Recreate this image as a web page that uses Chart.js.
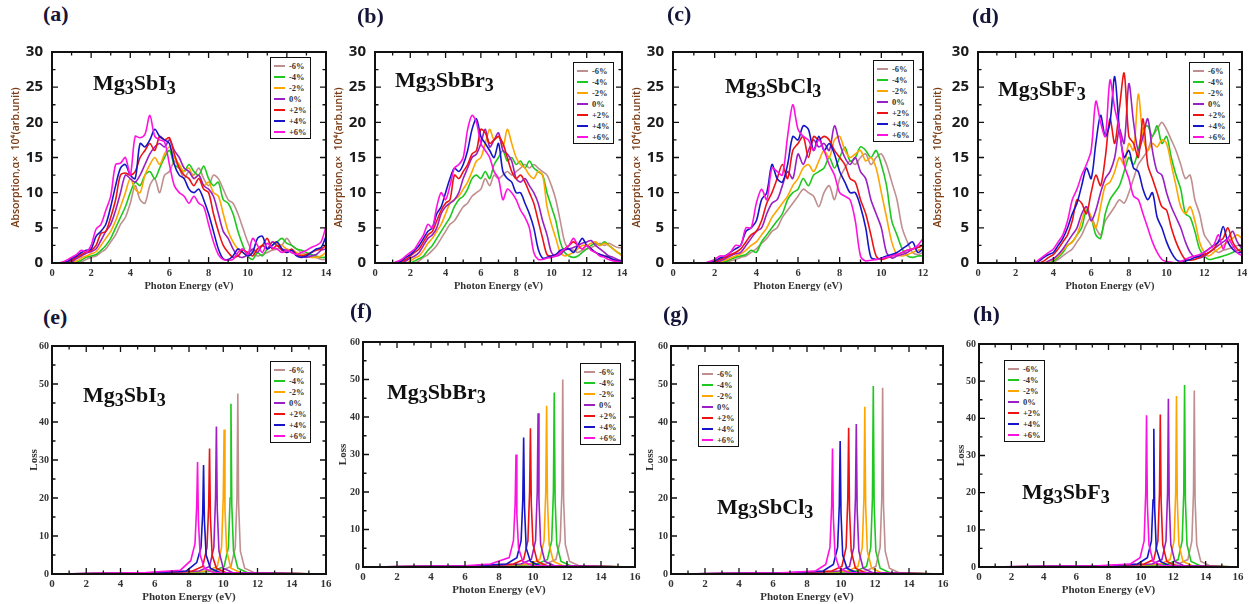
<!DOCTYPE html>
<html>
<head>
<meta charset="utf-8">
<script src="https://cdn.jsdelivr.net/npm/chart.js@4.4.0/dist/chart.umd.min.js"></script>
<style>
  html, body { margin: 0; padding: 0; background: #fff; }
  #fig { position: relative; width: 1254px; height: 604px; overflow: hidden; background: #fff; }
  .pc { position: absolute; }
  .tag { position: absolute; font: bold 22px "Liberation Serif", serif; color: #15153a; line-height: 1; }
  .name { position: absolute; font: bold 22px "Liberation Serif", serif; color: #111; line-height: 1; white-space: nowrap; }
  .name sub { font-size: 0.82em; vertical-align: -0.2em; line-height: 0; }
  .leg { position: absolute; border: 1.5px solid #111; background: #fff; padding: 2px 3px 1px 3px; }
  .leg div { height: 11px; font: bold 8.5px "Liberation Serif", serif; color: #333; display: flex; align-items: center; white-space: nowrap; }
  .leg i { display: inline-block; width: 11px; height: 2px; margin-right: 4px; }
</style>
</head>
<body>
<div id="fig"></div>
<script>
// x grid of the absorption spectra (eV)
const E = [0,0.25,0.5,0.75,1,1.25,1.5,1.75,2,2.25,2.5,2.75,3,3.25,3.5,3.75,4,4.25,4.5,4.75,5,5.25,5.5,5.75,6,6.25,6.5,6.75,7,7.25,7.5,7.75,8,8.25,8.5,8.75,9,9.25,9.5,9.75,10,10.25,10.5,10.75,11,11.25,11.5,11.75,12,12.25,12.5,12.75,13,13.25,13.5,13.75,14];

const strains = ["-6%", "-4%", "-2%", "0%", "+2%", "+4%", "+6%"];
const colors = ["#bf8f8f", "#1ec81e", "#ffa500", "#9a1fc4", "#ee1313", "#1616c8", "#ff12e0"];

// (a) Mg3SbI3 absorption
const absI_m6 = [0,0,0,0,0,0,0.2,0.5,0.8,1,1.5,2,3,4,5.5,6.5,8.5,11,9,8.5,11,12,10,12.5,13,14.5,13.5,12,13,12.5,13.5,12,11,12.5,12,10.5,9,8.5,7,5,3,1.5,1,1.2,1.5,1.8,2,2.5,3.5,2.5,2,1.5,1.2,1,0.8,0.5,0.5];
const absI_m4 = [0,0,0,0,0,0.1,0.4,0.8,1,1.2,1.8,2.5,3.5,5,6.5,8,10,11.5,11,12.5,13,12,13.5,15,16,14,13.5,13,14,13,12.5,13.8,12,11,11.5,9,8.5,7,4.5,2.5,1,0.5,1.5,1,2,2.5,3,3.5,2.8,2.5,2,1.8,1.5,1.2,1,0.8,0.8];
const absI_m2 = [0,0,0,0,0.1,0.3,0.7,1,1.3,1.6,2.5,3.5,4.5,6,8,10,12,10.5,10,12.5,14,15,14,15.5,16.5,15,14,13,13.5,12,12.5,11,11.5,10,9.5,7,4.5,3,2,1.5,1,1.5,2,2.5,2,3,2.8,2.5,2,1.8,1.5,1.2,1,0.8,0.8,1,1.5];
const absI_0 = [0,0,0,0,0.2,0.6,1,1.4,1.6,2,3.2,4.5,5.5,7.5,10,12.5,12,11.5,12.5,14,15.5,16.5,17,16.5,17.5,16,15,13.5,13,12,12.5,11,10.5,9.5,7,4.5,3.5,2,1,0.8,1.2,2,1.5,2.5,2,3,2.5,2,1.8,1.5,1.2,1,0.8,1,1.2,1.8,2];
const absI_p2 = [0,0,0,0.1,0.4,0.8,1.2,1.6,1.8,2.5,4.2,4.5,6.5,9,12.5,12.8,12.5,13,15,16,17,16,18,17.5,17.8,15.5,13.5,12.5,12,11,12,10.5,10,7,4.5,2.5,1.5,0.8,1,1.8,1.5,1,2,2.5,3.5,2,2.5,1.8,1.5,2,1.2,1,1.2,1.5,1.8,2,2.5];
const absI_p4 = [0,0,0,0.2,0.6,1,1.5,1.8,2,3.8,4.5,5.5,8,11,13.5,14,12.5,12,17,16.5,17.5,19,18,17.5,17,14,12.5,12,10.5,10,10.5,9,7,4.5,2,0.6,0.5,1,2,1.5,1,1.5,3.5,3.8,2,2.5,3,2,1.5,1.8,1,0.8,1,1.5,2,2.2,3.8];
const absI_p6 = [0,0,0.1,0.4,0.8,1.2,1.8,1.6,2.5,4.8,5.5,7.5,9.5,14,14.2,15,12.5,18,17.8,18.3,21,18,17.5,17.2,14,11,10,9.5,8.5,9.5,8.5,8,5.5,3,1.2,0.5,0.4,0.5,1.5,2,1.2,3.5,2.5,1.5,2.8,2.2,2,1.5,1.8,1.5,1.2,1.5,1.8,2.2,2.5,3,5.2];

// (b) Mg3SbBr3 absorption
const absBr_m6 = [0,0,0,0,0,0,0,0,0,0,0.3,0.8,1.2,1.8,2.5,3.5,4.5,5.5,6,7,8,8.5,9.5,10,10.5,12,11,12.5,12,12.5,13,12.5,13,13.5,14,13.5,14,13.5,13,12.5,11,9,6,3,2,1.8,1.5,1.8,2,2.2,2.5,2.8,2.5,2.8,2.5,2.2,2.2];
const absBr_m4 = [0,0,0,0,0,0,0,0,0,0.3,0.6,1,1.8,2.5,3.5,4.5,5.5,6.5,8,9,9.5,10.5,12,12.5,12,13,12,14,15,16,14.5,15,14,14.5,13.5,14.5,13.5,13,12.5,10,8,6,3,1.5,1,0.8,1,1.5,2,2.5,2.8,2.5,3,2.5,2,1.5,1.2];
const absBr_m2 = [0,0,0,0,0,0,0,0,0.3,0.7,1,1.8,2.8,3.5,4.5,5.5,7,8.5,9,9.5,10.5,11.5,13,14.5,15,17,19,17.5,18,16.5,19,17,15,14,13.5,12.5,12,13,12.5,8,5.5,3.5,1.5,1,1.2,1.5,2,2.5,2.5,2.8,3,2.5,2.8,2.5,2,1.5,1];
const absBr_0 = [0,0,0,0,0,0,0,0.3,0.7,1,1.5,2.5,3.5,4,5,7,8,8.5,9,10,12,13.5,15,15.5,17,19,16.5,17.5,18.5,16,15.5,14.5,12,11.5,12,11,10,8.5,6,4,1.5,1,1.2,1.8,2,2.2,2.5,2.8,3,3.2,2.5,2,1.5,1,0.8,0.5,0.3];
const absBr_p2 = [0,0,0,0,0,0,0.2,0.5,1,1.5,2,3,4,4.5,6,7.5,8.5,9,12.5,12,13,14,15.5,16,19,18.5,17,17.5,18,17,15,13,12,12.5,11.5,10,8.5,6,3.5,1.2,1,1.2,1.5,2,2.5,3,2.5,2,2.5,2,1.5,1.2,1,0.8,0.5,0.3,0.2];
const absBr_p4 = [0,0,0,0,0,0.1,0.3,0.8,1.2,1.8,2.5,3.5,4.5,5,7,8,10,12,13.5,13,14,16,19,20.5,18,17,16,15,17,13,12,11.5,10,10,8.5,7,5,2,0.7,0.8,1,1.2,1.8,2,2,1.5,2.5,3.5,2.5,2,1.5,1.2,1,0.8,0.5,0.3,0.2];
const absBr_p6 = [0,0,0,0,0,0.2,0.5,1,1.5,2,3,4,5.5,5,8,10,9,11,13.5,14,15,19,21,20,17,16,15,13,12,9,10.5,10,9,7.5,6.5,5,1.5,0.5,0.5,0.7,0.8,1,1.5,2,2.5,3.5,2.5,2,2.5,1.8,1.5,1,0.8,0.5,0.3,0.2,0.1];

// (c) Mg3SbCl3 absorption (0-12 eV)
const absCl_m6 = [0,0,0,0,0,0,0,0,0,0,0.1,0.3,0.5,0.8,1,1.5,2,2.8,3.5,4.5,5,6.5,7.5,8.5,9.5,10.5,10,9.5,8,10,11,9,12,13.5,14.5,14,15,15.5,14,15,15.5,14,11.5,9,5,3,1.5,1.2,1.5];
const absCl_m4 = [0,0,0,0,0,0,0,0,0,0,0.2,0.5,0.8,1,1.2,1.8,1.5,3,4,5,6,7,9,10,10.5,12,11,12.5,13,13.5,15,13.5,15,16.5,14.5,15,16.5,16,15,16,14,11,6,4,2,1,0.8,1,1];
const absCl_m2 = [0,0,0,0,0,0,0,0,0,0.2,0.4,0.7,1,1.3,1.8,2.5,3,4,5,6.5,7.5,8.5,9.5,11,12,13.5,14,13,14.5,16,15,17.5,18,16,15,15.5,16,14.5,15,13.5,10,6.5,3,1.2,1,1.2,1.5,1.8,2];
const absCl_0 = [0,0,0,0,0,0,0,0,0.1,0.3,0.6,1,1.3,1.5,2.5,3.5,4.5,5,7,8.5,9,11,13,12,15.5,14,16,17.5,16.5,17,16,19.5,17,15,14,15,13,12,9,7,5,1.5,0.7,1,1.2,1.5,2,2.2,2.5];
const absCl_p2 = [0,0,0,0,0,0,0,0,0.2,0.5,0.8,1.2,1.5,2,3,4,4.5,6,8.5,10,12,14,12,16,17,18,15,18,17.5,18,17.5,16,15,14,12,11.5,9,7,4,1,0.5,0.7,1,1.2,1.5,1.8,2,2.2,2.5];
const absCl_p4 = [0,0,0,0,0,0,0,0.1,0.3,0.7,1,1.5,2,2.5,4.5,5,6,9,10,14,12,11.5,14,18,17.5,19.5,19,16,18,16,17,15.5,13,11.5,10,10,8,5,0.8,0.5,0.7,1,1.2,1.5,2,2.5,3,1.5,2];
const absCl_p6 = [0,0,0,0,0,0,0,0.2,0.5,1,1,1.5,2.5,2.5,5,5,8.5,10.5,9,13.5,13,12.5,18,22.5,19,18,17.5,16,17.5,16,14,12.5,10,9.5,9,6,1,0.3,0.4,0.5,0.6,0.8,1,1.2,1.5,1.8,2,2.5,3.5];

// (d) Mg3SbF3 absorption
const absF_m6 = [0,0,0,0,0,0,0,0,0,0,0,0,0,0,0,0,0.1,0.5,1,1.5,2,3,4,5.5,6.5,5,4,6,7,8,9,8.5,10,12,14,15,16,18,19,20,19,17.5,16,14,12,12.5,9,7,4,3,2,1.5,1.8,2,2.2,2.5,2.5];
const absF_m4 = [0,0,0,0,0,0,0,0,0,0,0,0,0,0,0,0,0.3,0.8,1.5,2.5,3,4,5,7.5,6.5,4,3.5,7,9,10,11,13,15,14,16,19,19.5,18,19.5,17,18,15,12.5,10.5,7,6.5,4.5,2,1,0.5,0.6,0.8,1,1.2,1.5,1.8,2];
const absF_m2 = [0,0,0,0,0,0,0,0,0,0,0,0,0,0,0,0.2,0.5,1,1.8,2.5,3,4,6,8,6.5,5,8,11,11.5,13,15,14,17,16,24,18,16,17,16.5,17.5,17,14,11,8,7,8,6,3,1.5,1,1.5,2,2.5,3,3.5,4,3.5];
const absF_0 = [0,0,0,0,0,0,0,0,0,0,0,0,0,0,0,0.3,0.6,1.2,2,3,4,5,7,8,6,7.5,10,12,13,15,19,17,25.5,20,16,18,20.5,16,13,12.5,10,8,6.5,5,3,1.5,0.8,0.7,1,1.5,2,2.5,3,3.5,4.5,3,2];
const absF_p2 = [0,0,0,0,0,0,0,0,0,0,0,0,0,0,0.3,0.8,1.2,2,3,4,6,9,8.5,7,10,12.5,11,15,20.5,17,22,27,18,17,15,20.5,14,12,10,8,7.5,5,3,1.5,0.5,0.4,0.5,0.8,1.2,1.5,2,3,3.5,5,3,2,1.5];
const absF_p4 = [0,0,0,0,0,0,0,0,0,0,0,0,0,0.3,0.8,1.2,1.5,2.5,3.5,5,7,8.5,11,13.5,12,17,21,18,20,26.5,19,15,16,13.5,13,10.5,9,10,6.5,5,3,1.5,0.5,0.2,0.3,0.5,0.8,1,1.5,2,2.5,3,5.2,3,2,1.5,1.5];
const absF_p6 = [0,0,0,0,0,0,0,0,0,0,0,0,0,0.5,1,1.5,2,3,4,6,9,10.5,12.5,14,16,23,20,18,26,22,19,14,12,9.5,9,7,5,3,1.5,0.5,0.2,0.1,0,0.2,0.5,0.8,1,1.2,1.5,2,2.5,4,2,3.5,2.5,1.5,1];

// (e) Mg3SbI3 loss [eV, loss]
const lossI_m6 = [[0,0],[7.85,0.3],[9.85,0.8],[10.45,2],[10.7,7],[10.8,20],[10.85,47.5],[10.9,18],[11,6],[11.25,1.5],[11.85,0.3],[16,0]];
const lossI_m4 = [[0,0],[7.45,0.3],[9.45,0.8],[10.05,2],[10.3,7],[10.4,20],[10.45,44.8],[10.5,18],[10.6,6],[10.85,1.5],[11.45,0.3],[16,0]];
const lossI_m2 = [[0,0],[7.05,0.3],[9.05,0.8],[9.65,2],[9.9,7],[10,20],[10.05,38],[10.1,17],[10.2,6],[10.45,1.5],[11.05,0.3],[16,0]];
const lossI_0 = [[0,0],[6.6,0.3],[8.6,0.8],[9.2,2],[9.45,7],[9.55,20],[9.6,38.8],[9.65,17],[9.75,6],[10,1.5],[10.6,0.3],[16,0]];
const lossI_p2 = [[0,0],[6.2,0.3],[8.2,0.8],[8.8,2],[9.05,7],[9.15,18],[9.2,33],[9.25,15],[9.35,5],[9.6,1.5],[10.2,0.3],[16,0]];
const lossI_p4 = [[0,0],[5.85,0.3],[7.85,0.8],[8.45,3],[8.7,7],[8.8,16],[8.85,28.7],[8.9,14],[9,5],[9.25,1.5],[9.85,0.3],[16,0]];
const lossI_p6 = [[0,0],[5.5,0.4],[7.5,1],[8.1,3.5],[8.35,8],[8.45,18],[8.5,29.5],[8.55,14],[8.65,5],[8.9,1.5],[9.5,0.3],[16,0]];

// (f) Mg3SbBr3 loss
const lossBr_m6 = [[0,0],[8.75,0.3],[10.75,0.8],[11.35,2],[11.6,7],[11.7,20],[11.75,50],[11.8,18],[11.9,6],[12.15,1.5],[12.75,0.3],[16,0]];
const lossBr_m4 = [[0,0],[8.25,0.3],[10.25,0.8],[10.85,2],[11.1,7],[11.2,20],[11.25,46.5],[11.3,18],[11.4,6],[11.65,1.5],[12.25,0.3],[16,0]];
const lossBr_m2 = [[0,0],[7.8,0.3],[9.8,0.8],[10.4,2],[10.65,7],[10.75,20],[10.8,43],[10.85,18],[10.95,6],[11.2,1.5],[11.8,0.3],[16,0]];
const lossBr_0 = [[0,0],[7.3,0.3],[9.3,0.8],[9.9,2],[10.15,7],[10.25,20],[10.3,41],[10.35,18],[10.45,6],[10.7,1.5],[11.3,0.3],[16,0]];
const lossBr_p2 = [[0,0],[6.85,0.3],[8.85,0.8],[9.45,2],[9.7,7],[9.8,20],[9.85,37],[9.9,17],[10,6],[10.25,1.5],[10.85,0.3],[16,0]];
const lossBr_p4 = [[0,0],[6.45,0.3],[8.45,0.8],[9.05,2.5],[9.3,7],[9.4,18],[9.45,34.5],[9.5,16],[9.6,5],[9.85,1.5],[10.45,0.3],[16,0]];
const lossBr_p6 = [[0,0],[6,0.3],[7.5,0.8],[8.6,2.5],[8.85,7],[8.95,17],[9,30],[9.05,14],[9.15,5],[9.4,1.5],[10,0.3],[16,0]];

// (g) Mg3SbCl3 loss
const lossCl_m6 = [[0,0],[9.45,0.3],[11.45,0.8],[12.05,2],[12.3,7],[12.4,20],[12.45,49],[12.5,18],[12.6,6],[12.85,1.5],[13.45,0.3],[16,0]];
const lossCl_m4 = [[0,0],[8.9,0.3],[10.9,0.8],[11.5,2],[11.75,7],[11.85,20],[11.9,49.5],[11.95,18],[12.05,6],[12.3,1.5],[12.9,0.3],[16,0]];
const lossCl_m2 = [[0,0],[8.4,0.3],[10.4,0.8],[11,2],[11.25,7],[11.35,20],[11.4,44],[11.45,18],[11.55,6],[11.8,1.5],[12.4,0.3],[16,0]];
const lossCl_0 = [[0,0],[7.9,0.3],[9.9,0.8],[10.5,2],[10.75,7],[10.85,20],[10.9,39.5],[10.95,17],[11.05,6],[11.3,1.5],[11.9,0.3],[16,0]];
const lossCl_p2 = [[0,0],[7.45,0.3],[9.45,0.8],[10.05,2],[10.3,7],[10.4,20],[10.45,38.5],[10.5,17],[10.6,6],[10.85,1.5],[11.45,0.3],[16,0]];
const lossCl_p4 = [[0,0],[6.95,0.3],[8.95,0.8],[9.55,2.5],[9.8,7],[9.9,18],[9.95,35],[10,16],[10.1,5],[10.35,1.5],[10.95,0.3],[16,0]];
const lossCl_p6 = [[0,0],[6.5,0.3],[8.5,0.8],[9.1,2.5],[9.35,7],[9.45,18],[9.5,33],[9.55,15],[9.65,5],[9.9,1.5],[10.5,0.3],[16,0]];

// (h) Mg3SbF3 loss
const lossF_m6 = [[0,0],[10.3,0.3],[12.3,0.8],[12.9,2],[13.15,7],[13.25,20],[13.3,47.5],[13.35,18],[13.45,6],[13.7,1.5],[14.3,0.3],[16,0]];
const lossF_m4 = [[0,0],[9.7,0.3],[11.7,0.8],[12.3,2],[12.55,7],[12.65,20],[12.7,49],[12.75,18],[12.85,6],[13.1,1.5],[13.7,0.3],[16,0]];
const lossF_m2 = [[0,0],[9.2,0.3],[11.2,0.8],[11.8,2],[12.05,7],[12.15,20],[12.2,46],[12.25,18],[12.35,6],[12.6,1.5],[13.2,0.3],[16,0]];
const lossF_0 = [[0,0],[8.7,0.3],[10.7,0.8],[11.3,2],[11.55,7],[11.65,20],[11.7,45.3],[11.75,18],[11.85,6],[12.1,1.5],[12.7,0.3],[16,0]];
const lossF_p2 = [[0,0],[8.2,0.3],[10.2,0.8],[10.8,2],[11.05,7],[11.15,20],[11.2,41],[11.25,18],[11.35,6],[11.6,1.5],[12.2,0.3],[16,0]];
const lossF_p4 = [[0,0],[7.8,0.3],[9.8,0.8],[10.4,2.5],[10.65,7],[10.75,18],[10.8,37.2],[10.85,16],[10.95,5],[11.2,1.5],[11.8,0.3],[16,0]];
const lossF_p6 = [[0,0],[7.35,0.3],[9.35,0.8],[9.95,2.5],[10.2,7],[10.3,20],[10.35,40.8],[10.4,17],[10.5,6],[10.75,1.5],[11.35,0.3],[16,0]];

const panels = [
  { tag: "(a)", name: "Mg<sub>3</sub>SbI<sub>3</sub>", abs: true, xmax: 14,
    series: [absI_m6, absI_m4, absI_m2, absI_0, absI_p2, absI_p4, absI_p6],
    L: 52, R: 326, T: 46, B: 263, yw: 42, tagAt: [43, 3], nameAt: [93, 72], legAt: [270, 57] },
  { tag: "(b)", name: "Mg<sub>3</sub>SbBr<sub>3</sub>", abs: true, xmax: 14,
    series: [absBr_m6, absBr_m4, absBr_m2, absBr_0, absBr_p2, absBr_p4, absBr_p6],
    L: 375, R: 622, T: 46, B: 263, yw: 42, tagAt: [357, 5], nameAt: [395, 69], legAt: [573, 62] },
  { tag: "(c)", name: "Mg<sub>3</sub>SbCl<sub>3</sub>", abs: true, xmax: 12,
    series: [absCl_m6, absCl_m4, absCl_m2, absCl_0, absCl_p2, absCl_p4, absCl_p6],
    L: 673, R: 923, T: 46, B: 263, yw: 42, tagAt: [667, 3], nameAt: [725, 75], legAt: [873, 60] },
  { tag: "(d)", name: "Mg<sub>3</sub>SbF<sub>3</sub>", abs: true, xmax: 14,
    series: [absF_m6, absF_m4, absF_m2, absF_0, absF_p2, absF_p4, absF_p6],
    L: 978, R: 1242, T: 46, B: 263, yw: 46, tagAt: [972, 5], nameAt: [998, 78], legAt: [1189, 62] },
  { tag: "(e)", name: "Mg<sub>3</sub>SbI<sub>3</sub>", abs: false, xmax: 16,
    series: [lossI_m6, lossI_m4, lossI_m2, lossI_0, lossI_p2, lossI_p4, lossI_p6],
    L: 52, R: 326, T: 346, B: 574, yw: 24, tagAt: [43, 306], nameAt: [83, 384], legAt: [270, 361] },
  { tag: "(f)", name: "Mg<sub>3</sub>SbBr<sub>3</sub>", abs: false, xmax: 16,
    series: [lossBr_m6, lossBr_m4, lossBr_m2, lossBr_0, lossBr_p2, lossBr_p4, lossBr_p6],
    L: 363, R: 635, T: 342, B: 567, yw: 26, tagAt: [350, 300], nameAt: [387, 381], legAt: [580, 363] },
  { tag: "(g)", name: "Mg<sub>3</sub>SbCl<sub>3</sub>", abs: false, xmax: 16,
    series: [lossCl_m6, lossCl_m4, lossCl_m2, lossCl_0, lossCl_p2, lossCl_p4, lossCl_p6],
    L: 671, R: 943, T: 346, B: 574, yw: 27, tagAt: [663, 303], nameAt: [717, 496], legAt: [698, 365] },
  { tag: "(h)", name: "Mg<sub>3</sub>SbF<sub>3</sub>", abs: false, xmax: 16,
    series: [lossF_m6, lossF_m4, lossF_m2, lossF_0, lossF_p2, lossF_p4, lossF_p6],
    L: 979, R: 1238, T: 344, B: 567, yw: 24, tagAt: [973, 303], nameAt: [1022, 481], legAt: [1004, 360] },
];

// box frame with inward ticks on all four sides
const frame = {
  id: "frame",
  afterDatasetsDraw(chart, args, o) {
    const { ctx, chartArea: a, scales: { x, y } } = chart;
    ctx.save();
    ctx.strokeStyle = "#111";
    ctx.lineWidth = 1.3;
    ctx.beginPath();
    const nx = Math.round(x.max / o.xMinor);
    for (let i = 0; i <= nx; i++) {
      const px = x.getPixelForValue(i * o.xMinor);
      const len = i % o.xEvery === 0 ? 6 : 3.5;
      ctx.moveTo(px, a.bottom); ctx.lineTo(px, a.bottom - len);
      ctx.moveTo(px, a.top); ctx.lineTo(px, a.top + len);
    }
    const ny = Math.round(y.max / o.yMinor);
    for (let i = 0; i <= ny; i++) {
      const py = y.getPixelForValue(i * o.yMinor);
      const len = i % 2 === 0 ? 6 : 3.5;
      ctx.moveTo(a.left, py); ctx.lineTo(a.left + len, py);
      ctx.moveTo(a.right, py); ctx.lineTo(a.right - len, py);
    }
    ctx.stroke();
    ctx.lineWidth = 2;
    ctx.strokeRect(a.left, a.top, a.right - a.left, a.bottom - a.top);
    ctx.restore();
  }
};

const fig = document.getElementById("fig");
const serif = '"Liberation Serif", "Times New Roman", serif';

function addPanel(p) {
  const pad = 12, xh = 30;
  const w = p.R - p.L + p.yw + pad;
  const h = p.B - p.T + pad + xh;

  const box = document.createElement("div");
  box.className = "pc";
  box.style.left = (p.L - p.yw) + "px";
  box.style.top = (p.T - pad) + "px";
  const cv = document.createElement("canvas");
  cv.width = w; cv.height = h;
  cv.style.width = w + "px"; cv.style.height = h + "px";
  box.appendChild(cv);
  fig.appendChild(box);

  const datasets = p.series.map((s, i) => ({
    label: strains[i],
    data: p.abs ? s.map((v, k) => ({ x: E[k], y: v })) : s.map(d => ({ x: d[0], y: d[1] })),
    borderColor: colors[i],
    borderWidth: p.abs ? 1.6 : 1.6,
    pointRadius: 0,
    tension: p.abs ? 0.3 : 0,
    order: 6 - i,
  }));

  new Chart(cv, {
    type: "line",
    data: { datasets },
    plugins: [frame],
    options: {
      responsive: false,
      animation: false,
      devicePixelRatio: 1,
      layout: { padding: { top: pad, right: pad, left: 0, bottom: 0 } },
      plugins: {
        legend: { display: false },
        tooltip: { enabled: false },
        frame: { xMinor: 1, xEvery: 2, yMinor: p.abs ? 2.5 : 5 },
      },
      scales: {
        x: {
          type: "linear", min: 0, max: p.xmax,
          grid: { display: false, drawTicks: false },
          border: { display: false },
          ticks: { stepSize: 2, autoSkip: false, maxRotation: 0, padding: 4, color: "#333",
                   font: { family: serif, weight: "bold", size: p.abs ? 10.5 : 11 } },
          title: { display: true, text: "Photon Energy (eV)", color: "#333", padding: { top: 1, bottom: 0 },
                   font: { family: serif, weight: "bold", size: p.abs ? 10.5 : 11 } },
          afterFit: s => { s.height = xh; },
        },
        y: {
          min: 0, max: p.abs ? 30 : 60,
          grid: { display: false, drawTicks: false },
          border: { display: false },
          ticks: p.abs
            ? { stepSize: 5, padding: 9, color: "#1a1a1a", font: { family: '"Open Sans", sans-serif', weight: "bold", size: 15 } }
            : { stepSize: 10, padding: 3, color: "#333", font: { family: serif, weight: "bold", size: 10 } },
          title: p.abs
            ? { display: true, text: "Absorption,α×  10⁴(arb.unit)", color: "#7a3c14", padding: 0,
                font: { family: '"Open Sans", sans-serif', weight: "600", size: 10.5 } }
            : { display: true, text: "Loss", color: "#333", padding: 0,
                font: { family: serif, weight: "bold", size: 11 } },
          afterFit: s => { s.width = p.yw; },
        },
      },
    },
  });

  const tag = document.createElement("div");
  tag.className = "tag";
  tag.textContent = p.tag;
  tag.style.left = p.tagAt[0] + "px"; tag.style.top = p.tagAt[1] + "px";
  fig.appendChild(tag);

  const nm = document.createElement("div");
  nm.className = "name";
  nm.innerHTML = p.name;
  nm.style.left = p.nameAt[0] + "px"; nm.style.top = p.nameAt[1] + "px";
  fig.appendChild(nm);

  const leg = document.createElement("div");
  leg.className = "leg";
  leg.style.left = p.legAt[0] + "px"; leg.style.top = p.legAt[1] + "px";
  leg.innerHTML = strains.map((s, i) => `<div><i style="background:${colors[i]}"></i>${s}</div>`).join("");
  fig.appendChild(leg);
}

panels.forEach(addPanel);
</script>
</body>
</html>
